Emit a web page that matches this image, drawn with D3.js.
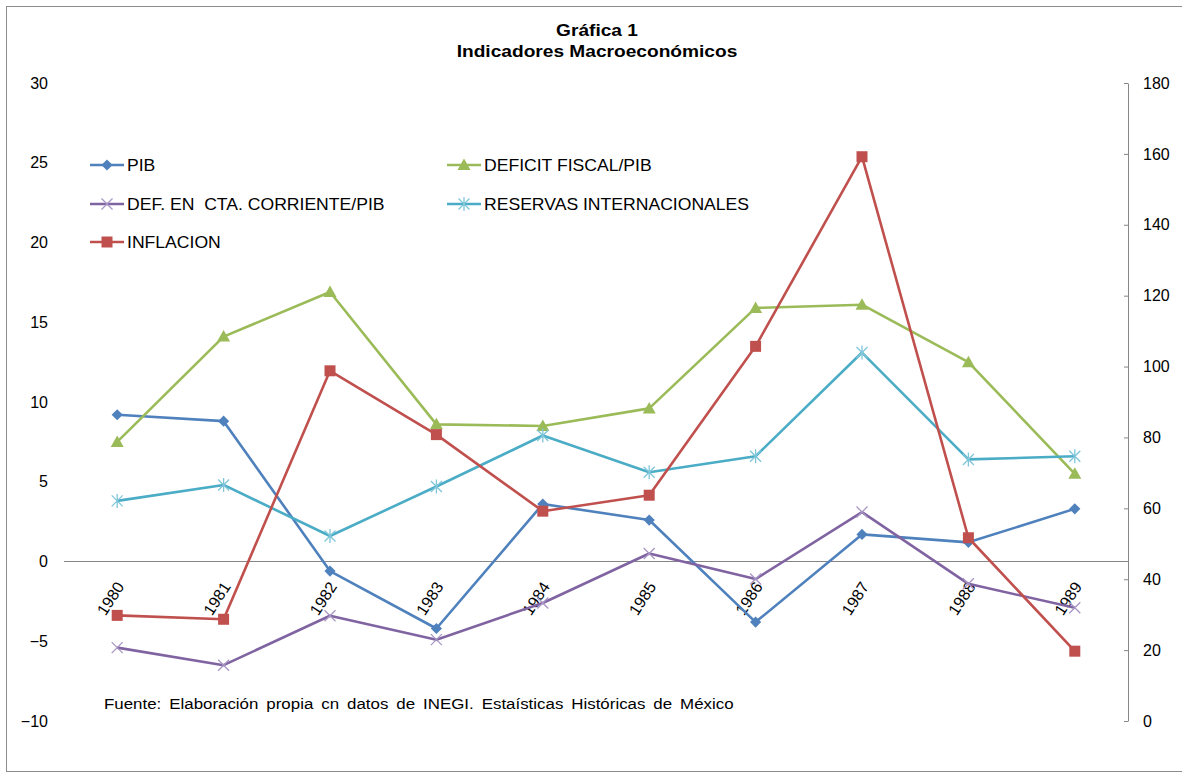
<!DOCTYPE html>
<html>
<head>
<meta charset="utf-8">
<script src="https://cdn.jsdelivr.net/npm/d3@7"></script>
<style>
  html, body { margin: 0; padding: 0; background: #fff; }
  svg { display: block; font-family: "Liberation Sans", Arial, sans-serif; }
</style>
</head>
<body>
<svg id="chart" width="1182" height="774"></svg>
<script>
// Years on the category axis
const years = ["1980","1981","1982","1983","1984","1985","1986","1987","1988","1989"];

// Primary (left) axis series
const pib          = [9.2, 8.8, -0.6, -4.2, 3.6, 2.6, -3.8, 1.7, 1.2, 3.3];
const defCtaCte    = [-5.4, -6.5, -3.4, -4.9, -2.6, 0.5, -1.1, 3.1, -1.4, -2.9];
const deficitFisc  = [7.5, 14.1, 16.9, 8.6, 8.5, 9.6, 15.9, 16.1, 12.5, 5.5];
const reservas     = [3.8, 4.8, 1.6, 4.7, 7.9, 5.6, 6.6, 13.1, 6.4, 6.6];

// Secondary (right) axis series
const inflacion    = [29.8, 28.7, 98.8, 80.8, 59.2, 63.7, 105.7, 159.2, 51.7, 19.7];

// Axis ticks
const leftTicks  = [-10, -5, 0, 5, 10, 15, 20, 25, 30];
const rightTicks = [0, 20, 40, 60, 80, 100, 120, 140, 160, 180];

const svg = d3.select("#chart");

// Plot area
const plot = { left: 64, right: 1128, top: 83, bottom: 721 };

const x = d3.scaleBand().domain(years).range([plot.left, plot.right]);
const cx = d => x(d) + x.bandwidth() / 2;
const yL = d3.scaleLinear().domain([-10, 30]).range([plot.bottom, plot.top]);
const yR = d3.scaleLinear().domain([0, 180]).range([plot.bottom, plot.top]);

// Text is drawn slightly wide, as in the original spreadsheet export
const WIDE = 1.14;
function wideText(parent, tx, ty, str, opts = {}) {
  const g = parent.append("g").attr("transform", `translate(${tx},${ty}) scale(${opts.sx || WIDE},1)`);
  const t = g.append("text").attr("font-size", opts.size || 16).text(str);
  if (opts.anchor) t.attr("text-anchor", opts.anchor);
  if (opts.bold) t.attr("font-weight", "bold");
  if (opts.dy) t.attr("dy", opts.dy);
  if (opts.wordSpacing) t.attr("word-spacing", opts.wordSpacing);
  return t;
}

// Outer frame
svg.append("rect")
  .attr("x", 6.5).attr("y", 6.5).attr("width", 1190).attr("height", 765)
  .attr("fill", "none").attr("stroke", "#8c8c8c").attr("stroke-width", 1);

// Title
wideText(svg, 597, 36, "Gráfica 1", { size: 16.5, bold: true, anchor: "middle", sx: 1.16 });
wideText(svg, 597, 57, "Indicadores Macroeconómicos", { size: 16.5, bold: true, anchor: "middle", sx: 1.16 });

// Left axis (labels only)
const axL = svg.append("g").attr("transform", `translate(${plot.left},0)`)
  .call(d3.axisLeft(yL).tickValues(leftTicks).tickSize(0).tickPadding(16).tickFormat(d3.format("d")));
axL.select(".domain").remove();
axL.selectAll("text").attr("font-size", 16).attr("fill", "#000")
  .style("font-family", "Liberation Sans, Arial, sans-serif");

// Right axis
const axR = svg.append("g").attr("transform", `translate(${plot.right},0)`)
  .call(d3.axisRight(yR).tickValues(rightTicks).tickSizeInner(-4).tickSizeOuter(0).tickPadding(15).tickFormat(d3.format("d")));
axR.select(".domain").attr("stroke", "#868686");
axR.selectAll(".tick line").attr("stroke", "#868686");
axR.selectAll("text").attr("font-size", 16).attr("fill", "#000")
  .style("font-family", "Liberation Sans, Arial, sans-serif");

// Horizontal category axis at zero
svg.append("line")
  .attr("x1", plot.left).attr("x2", plot.right)
  .attr("y1", yL(0)).attr("y2", yL(0))
  .attr("stroke", "#868686").attr("stroke-width", 1);

// Rotated year labels
svg.append("g").selectAll("text").data(years).join("text")
  .attr("transform", d => `translate(${cx(d) + 3},${yL(0) + 22}) rotate(-57)`)
  .attr("text-anchor", "end")
  .attr("dy", "0.35em")
  .attr("font-size", 16)
  .text(d => d);

// Marker shapes
const markers = {
  diamond: (g, c) => g.append("path").attr("d", d3.symbol(d3.symbolDiamond2, 80)()).attr("fill", c),
  square: (g, c) => g.append("rect").attr("x", -5.5).attr("y", -5.5).attr("width", 11).attr("height", 11).attr("fill", c),
  triangle: (g, c) => g.append("path").attr("d", "M0,-6.5L6.5,5L-6.5,5Z").attr("fill", c),
  cross: (g, c) => g.append("path").attr("d", "M-5.5,-5.5L5.5,5.5M-5.5,5.5L5.5,-5.5").attr("stroke", c).attr("stroke-width", 1.3).attr("fill", "none"),
  star: (g, c) => g.append("path").attr("d", "M-5.5,-5.5L5.5,5.5M-5.5,5.5L5.5,-5.5M0,-7L0,7").attr("stroke", c).attr("stroke-width", 1.3).attr("fill", "none")
};

const series = [
  { name: "PIB", values: pib, y: yL, color: "#4F81BD", marker: "diamond", mcolor: "#4F81BD" },
  { name: "DEFICIT FISCAL/PIB", values: deficitFisc, y: yL, color: "#9BBB59", marker: "triangle", mcolor: "#9BBB59" },
  { name: "DEF. EN  CTA. CORRIENTE/PIB", values: defCtaCte, y: yL, color: "#8064A2", marker: "cross", mcolor: "#A896C4" },
  { name: "RESERVAS INTERNACIONALES", values: reservas, y: yL, color: "#4BACC6", marker: "star", mcolor: "#7FC6DA" },
  { name: "INFLACION", values: inflacion, y: yR, color: "#C0504D", marker: "square", mcolor: "#C0504D" }
];

const line = d3.line();
series.forEach(s => {
  const pts = s.values.map((v, i) => [cx(years[i]), s.y(v)]);
  const g = svg.append("g");
  g.append("path").attr("d", line(pts)).attr("fill", "none")
    .attr("stroke", s.color).attr("stroke-width", 2.6).attr("stroke-linejoin", "round");
  pts.forEach(p => {
    const m = g.append("g").attr("transform", `translate(${p[0]},${p[1]})`);
    markers[s.marker](m, s.mcolor);
  });
});

// Legend
const legendItems = [
  { s: series[0], x: 90, y: 165 },
  { s: series[1], x: 447, y: 165 },
  { s: series[2], x: 90, y: 204 },
  { s: series[3], x: 447, y: 204 },
  { s: series[4], x: 90, y: 242 }
];
legendItems.forEach(it => {
  const g = svg.append("g").attr("transform", `translate(${it.x},${it.y})`);
  g.append("line").attr("x1", 0).attr("x2", 34).attr("stroke", it.s.color).attr("stroke-width", 2.6);
  const m = g.append("g").attr("transform", "translate(17,0)");
  markers[it.s.marker](m, it.s.mcolor);
  g.append("text").attr("x", 37).attr("dy", "0.36em").attr("font-size", 16)
    .attr("xml:space", "preserve").style("white-space", "pre")
    .attr("transform", "translate(37,0) scale(1.1,1) translate(-37,0)")
    .text(it.s.name);
});

// Source note
wideText(svg, 104, 709, "Fuente: Elaboración propia cn datos de INEGI. Estaísticas Históricas de México",
  { size: 15.5, sx: 1.09, wordSpacing: 3 });
</script>
</body>
</html>
